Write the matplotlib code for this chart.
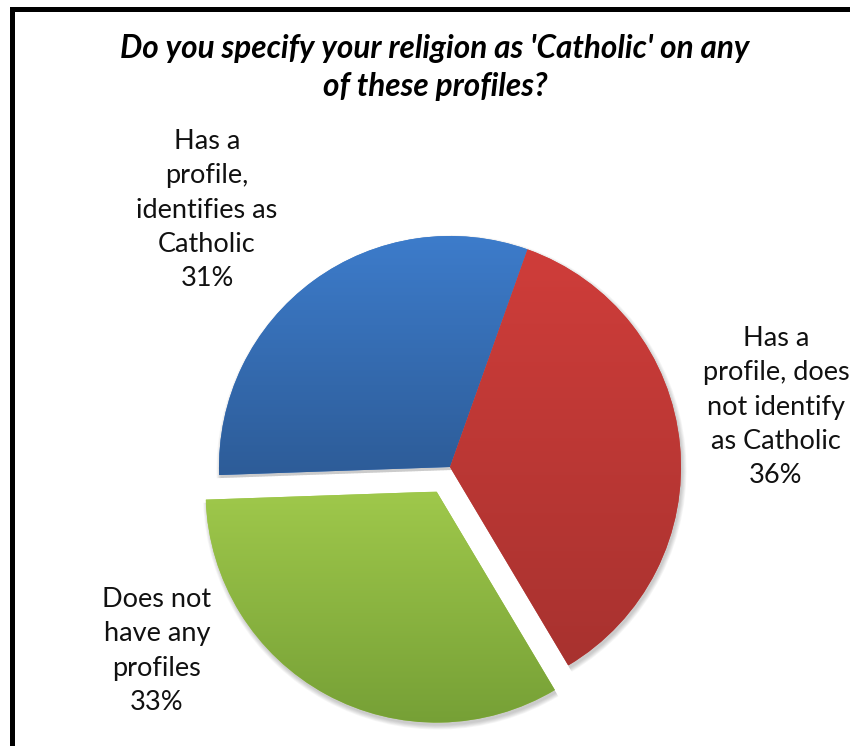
import numpy as np
import matplotlib
matplotlib.use("Agg")
import matplotlib.pyplot as plt
from matplotlib.patches import Wedge, Rectangle

# Survey answers
categories = ["Has a\nprofile,\nidentifies as\nCatholic",
              "Has a\nprofile, does\nnot identify\nas Catholic",
              "Does not\nhave any\nprofiles"]
shares = [31, 36, 33]
title = "Do you specify your religion as 'Catholic' on any\nof these profiles?"

# gradient colours for each slice (top, bottom)
top_colors = ["#3d7ccb", "#cf3d3a", "#9fc84b"]
bottom_colors = ["#2d5c98", "#a8322f", "#76a036"]

W, H = 850, 746


def py(y):
    # pixel row measured from the top -> data y
    return H - y


plt.rcParams["font.family"] = ["Lato", "DejaVu Sans"]

fig = plt.figure(figsize=(8.5, 7.46), dpi=100)
ax = fig.add_axes([0, 0, 1, 1])

center = (450, py(467))
radius = 231
wedges, _ = ax.pie(shares, colors=top_colors, startangle=182, counterclock=False,
                   radius=radius, center=center, explode=[0, 0, 28],
                   wedgeprops=dict(linewidth=0))

for w, c_top, c_bot in zip(wedges, top_colors, bottom_colors):
    w.set_zorder(3)
    # soft drop shadow: stacked translucent copies
    for k in range(6):
        sh = Wedge((w.center[0] + 1.5, w.center[1] - 3), w.r + k * 0.8,
                   w.theta1, w.theta2, facecolor="black", alpha=0.035,
                   linewidth=0, zorder=1)
        ax.add_patch(sh)
    # vertical gradient clipped to the wedge
    ext = w.get_path().get_extents()
    c1 = np.array(matplotlib.colors.to_rgb(c_bot))
    c2 = np.array(matplotlib.colors.to_rgb(c_top))
    t = np.linspace(0, 1, 256)[:, None]
    grad = (c1[None, :] * (1 - t) + c2[None, :] * t)[:, None, :]
    im = ax.imshow(grad, extent=[ext.x0, ext.x1, ext.y0, ext.y1], origin="lower",
                   aspect="auto", interpolation="bilinear", zorder=4)
    im.set_clip_path(w)

# data labels
label_pos = [(207, 210), (776, 407), (157, 651)]
for name, val, (x, y) in zip(categories, shares, label_pos):
    ax.text(x, py(y), f"{name}\n{val}%", ha="center", va="center",
            fontsize=19.5, color="#111111", linespacing=1.47, zorder=6)

ax.text(435, py(67.5), title, ha="center", va="center", fontsize=22.7,
        fontweight="bold", fontstyle="italic", color="black", linespacing=1.34)

# outer frame (right and bottom edges sit outside the canvas)
ax.add_patch(Rectangle((12.5, -20), W + 40, H - 8.5 + 20, fill=False,
                       linewidth=3.6, edgecolor="black", zorder=10))

ax.set_xlim(0, W)
ax.set_ylim(0, H)
ax.set_aspect("auto")
ax.axis("off")

fig.savefig("out.png", dpi=100, facecolor="white")
